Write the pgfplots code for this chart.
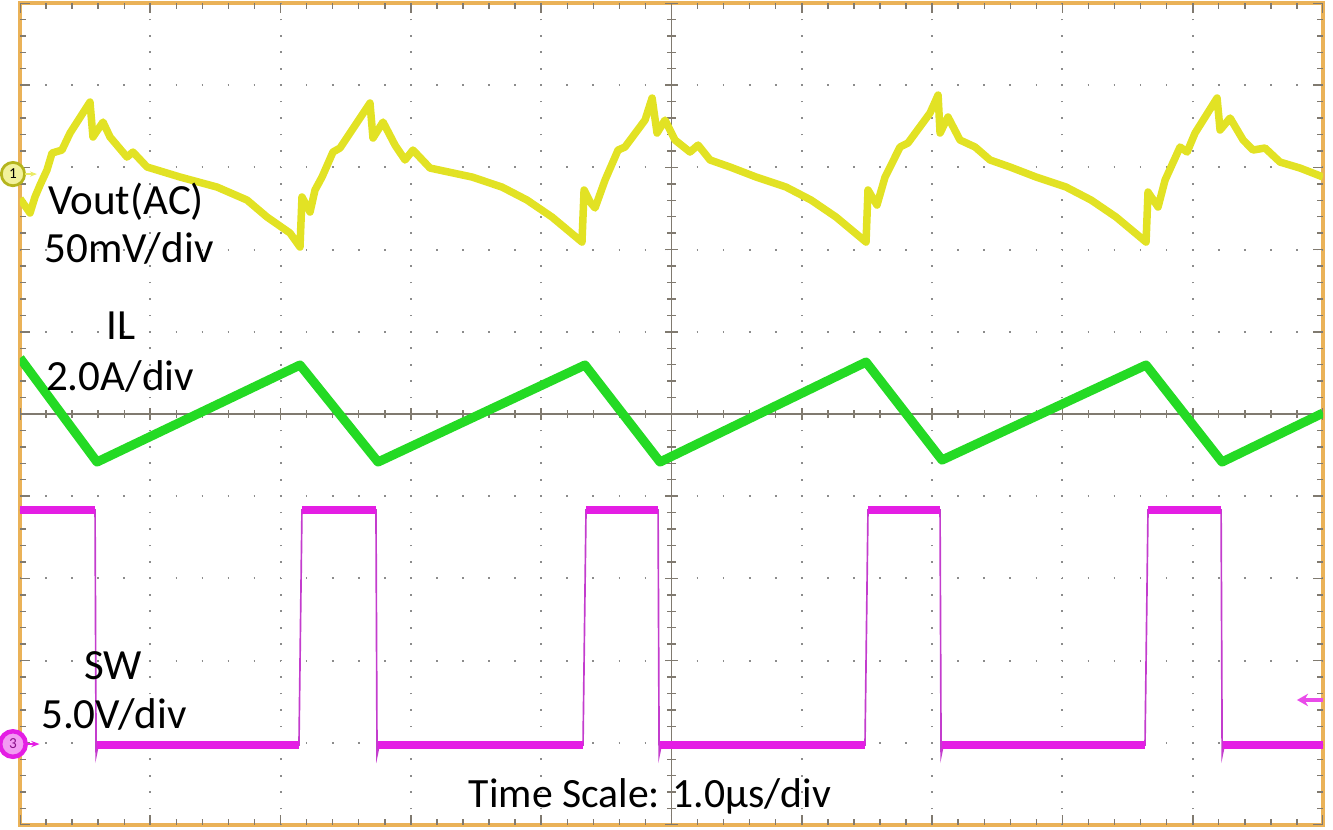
\documentclass[border=0pt]{standalone}
\usepackage{pgfplots}
\pgfplotsset{compat=1.18}
\usepackage{fontspec}
\setmainfont{Carlito}
\usetikzlibrary{arrows.meta}
\definecolor{scopeborder}{RGB}{234,178,88}
\definecolor{tickc}{RGB}{128,122,112}
\definecolor{dotc}{RGB}{140,140,140}
\definecolor{ch1}{RGB}{226,226,36}
\definecolor{ch2}{RGB}{36,218,36}
\definecolor{ch3}{RGB}{228,30,228}
\definecolor{ch3e}{RGB}{195,60,205}
\begin{document}
\begin{tikzpicture}
\useasboundingbox (-7.2pt,-1.44pt) rectangle (472.68pt,297pt);
\begin{axis}[at={(0,0)}, anchor=south west, scale only axis,
  width=469.08pt, height=295.92pt,
  xmin=0, xmax=10, ymin=0, ymax=10,
  xtick=\empty, ytick=\empty,
  axis line style={draw=scopeborder, line width=1.5pt},
  clip mode=individual, unbounded coords=jump]
% dotted grid
\pgfplotsinvokeforeach{1,2,3,4,6,7,8,9}{
  \draw[dotc, line width=0.75pt, dash pattern=on 0.6pt off 5.3184pt, dash phase=0.3pt] (axis cs:#1,0) -- (axis cs:#1,10);
  \draw[dotc, line width=0.75pt, dash pattern=on 0.6pt off 8.7816pt, dash phase=0.3pt] (axis cs:0,#1) -- (axis cs:10,#1);
}
% centre lines
\draw[tickc, line width=0.7pt] (axis cs:5,0) -- (axis cs:5,10);
\draw[tickc, line width=0.7pt] (axis cs:0,5) -- (axis cs:10,5);
\draw[tickc, line width=3pt, dash pattern=on 0.5pt off 5.4184pt, dash phase=0.25pt] (axis cs:5,0) -- (axis cs:5,10);
\draw[tickc, line width=3pt, dash pattern=on 0.5pt off 8.8816pt, dash phase=0.25pt] (axis cs:0,5) -- (axis cs:10,5);
\draw[tickc, line width=4.4pt, dash pattern=on 0.6pt off 28.992pt, dash phase=0.3pt] (axis cs:5,0) -- (axis cs:5,10);
\draw[tickc, line width=4.4pt, dash pattern=on 0.6pt off 46.308pt, dash phase=0.3pt] (axis cs:0,5) -- (axis cs:10,5);
% edge ticks
\draw[tickc, line width=2pt, dash pattern=on 0.5pt off 5.4184pt, dash phase=0.25pt] ([xshift=1pt]axis cs:0,0) -- ([xshift=1pt]axis cs:0,10);
\draw[tickc, line width=3.6pt, dash pattern=on 0.6pt off 28.992pt, dash phase=0.3pt] ([xshift=1.8pt]axis cs:0,0) -- ([xshift=1.8pt]axis cs:0,10);
\draw[tickc, line width=2pt, dash pattern=on 0.5pt off 5.4184pt, dash phase=0.25pt] ([xshift=-1pt]axis cs:10,0) -- ([xshift=-1pt]axis cs:10,10);
\draw[tickc, line width=3.6pt, dash pattern=on 0.6pt off 28.992pt, dash phase=0.3pt] ([xshift=-1.8pt]axis cs:10,0) -- ([xshift=-1.8pt]axis cs:10,10);
\draw[tickc, line width=2pt, dash pattern=on 0.5pt off 8.8816pt, dash phase=0.25pt] ([yshift=1pt]axis cs:0,0) -- ([yshift=1pt]axis cs:10,0);
\draw[tickc, line width=3.6pt, dash pattern=on 0.6pt off 46.308pt, dash phase=0.3pt] ([yshift=1.8pt]axis cs:0,0) -- ([yshift=1.8pt]axis cs:10,0);
\draw[tickc, line width=2pt, dash pattern=on 0.5pt off 8.8816pt, dash phase=0.25pt] ([yshift=-1pt]axis cs:0,10) -- ([yshift=-1pt]axis cs:10,10);
\draw[tickc, line width=3.6pt, dash pattern=on 0.6pt off 46.308pt, dash phase=0.3pt] ([yshift=-1.8pt]axis cs:0,10) -- ([yshift=-1.8pt]axis cs:10,10);

% SW (channel 3): thin full trace
\addplot[ch3e, line width=0.6pt] coordinates {
(0,3.832) (0.576,3.832) (0.584,0.85) (0.60,0.973) (2.141,0.973) (2.164,3.832)
(2.732,3.832) (2.740,0.85) (2.756,0.973) (4.321,0.973) (4.344,3.832)
(4.897,3.832) (4.905,0.85) (4.921,0.973) (6.485,0.973) (6.508,3.832)
(7.061,3.832) (7.069,0.85) (7.085,0.973) (8.634,0.973) (8.657,3.832)
(9.218,3.832) (9.226,0.85) (9.242,0.973) (10,0.973)};
% SW flat levels (noise band)
\addplot[ch3, line width=2.6pt, line cap=butt] coordinates {
(0,3.832) (0.576,3.832) (0.58,nan)
(0.591,0.973) (2.141,0.973) (2.15,nan)
(2.164,3.832) (2.732,3.832) (2.74,nan)
(2.748,0.973) (4.321,0.973) (4.33,nan)
(4.344,3.832) (4.897,3.832) (4.90,nan)
(4.912,0.973) (6.485,0.973) (6.49,nan)
(6.508,3.832) (7.061,3.832) (7.07,nan)
(7.076,0.973) (8.634,0.973) (8.64,nan)
(8.657,3.832) (9.218,3.832) (9.22,nan)
(9.233,0.973) (10,0.973)};
% IL (channel 2)
\addplot[ch2, line width=3.3pt, line join=round] coordinates {
(0,5.681) (0.591,4.416) (2.149,5.596) (2.748,4.416) (4.336,5.596)
(4.912,4.416) (6.493,5.632) (7.076,4.440) (8.642,5.596) (9.225,4.416) (10,5.012)};
% Vout AC (channel 1)
\addplot[ch1, line width=2.7pt, line join=round] coordinates {
(0,7.62) (0.077,7.445) (0.115,7.640) (0.154,7.786) (0.207,7.968) (0.246,8.175)
(0.322,8.211) (0.384,8.418) (0.537,8.795) (0.560,8.370) (0.637,8.552) (0.691,8.370)
(0.821,8.126) (0.867,8.187) (0.975,8.005) (1.228,7.883) (1.512,7.761) (1.742,7.603)
(1.896,7.396) (2.072,7.202) (2.149,7.031)
(2.164,7.640) (2.226,7.457) (2.264,7.725) (2.318,7.883) (2.402,8.187) (2.456,8.236)
(2.548,8.455) (2.686,8.783) (2.709,8.357) (2.786,8.552) (2.878,8.272) (2.955,8.090)
(3.016,8.211) (3.147,7.992) (3.469,7.883) (3.699,7.761) (3.891,7.603) (4.083,7.396) (4.313,7.092)
(4.329,7.725) (4.375,7.579) (4.413,7.506) (4.490,7.846) (4.590,8.211) (4.643,8.248)
(4.797,8.576) (4.851,8.844) (4.889,8.418) (4.950,8.576) (5.027,8.333) (5.142,8.187)
(5.204,8.272) (5.296,8.090) (5.449,8.005) (5.649,7.883) (5.879,7.761) (6.071,7.603)
(6.263,7.396) (6.493,7.092)
(6.508,7.725) (6.577,7.542) (6.639,7.883) (6.754,8.248) (6.815,8.297) (6.984,8.661)
(7.046,8.880) (7.061,8.418) (7.122,8.613) (7.214,8.333) (7.330,8.248) (7.445,8.090)
(7.598,8.005) (7.798,7.883) (8.028,7.761) (8.220,7.603) (8.412,7.396) (8.642,7.092)
(8.657,7.700) (8.734,7.518) (8.788,7.846) (8.903,8.248) (8.957,8.187) (9.018,8.418)
(9.187,8.844) (9.210,8.455) (9.287,8.601) (9.387,8.333) (9.463,8.211) (9.555,8.236)
(9.670,8.065) (9.824,7.992) (10.000,7.883)};

% channel markers
\node[circle, fill=ch1!45!white, draw=ch1!80!black, line width=1pt, minimum size=8.4pt, inner sep=0pt, font=\fontsize{5.5}{5.5}\selectfont] at (axis cs:-0.054,7.919) {1};
\draw[ch1!70!white, line width=0.7pt, -{Stealth[length=2.5pt]}] (axis cs:0.035,7.919) -- (axis cs:0.13,7.919);
\node[circle, fill=ch3!45!white, draw=ch3, line width=1.6pt, minimum size=9.2pt, inner sep=0pt, text=ch3!60!black, font=\fontsize{5.5}{5.5}\selectfont] at (axis cs:-0.054,0.985) {3};
\draw[ch3, line width=0.8pt, -{Stealth[length=3pt]}] (axis cs:0.04,0.985) -- (axis cs:0.15,0.985);
\draw[ch3!80!white, line width=1.1pt, -{Stealth[length=4pt,width=4.5pt]}] (axis cs:10,1.521) -- (axis cs:9.80,1.521);

% labels
\begin{scope}[every node/.style={anchor=base, inner sep=0pt, font=\fontsize{15.5}{18.6}\selectfont}]
\node at (axis cs:0.814,7.433) {Vout(AC)};
\node at (axis cs:0.837,6.849) {50mV/div};
\node at (axis cs:0.775,5.912) {IL};
\node at (axis cs:0.768,5.292) {2.0A/div};
\node at (axis cs:0.714,1.776) {SW};
\node at (axis cs:0.721,1.168) {5.0V/div};
\node[font=\fontsize{15}{18}\selectfont] at (axis cs:4.835,0.207) {Time Scale: 1.0µs/div};
\end{scope}
\end{axis}
\end{tikzpicture}
\end{document}
